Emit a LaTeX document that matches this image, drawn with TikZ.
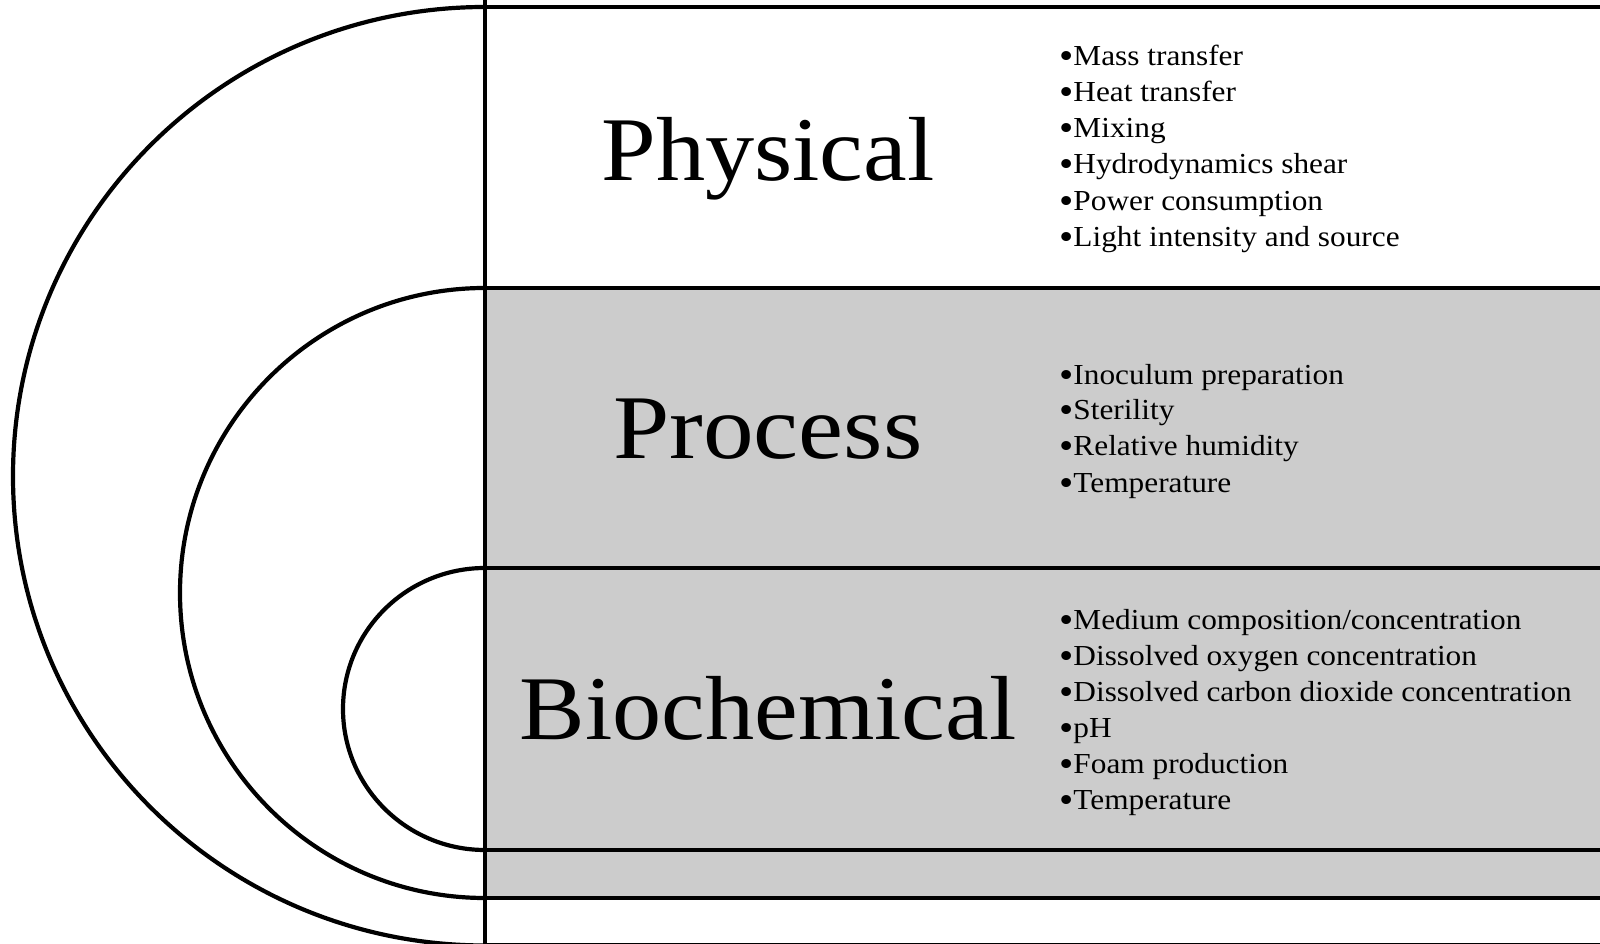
\documentclass[tikz,border=0pt]{standalone}
\usepackage{fontspec}
\usepackage{graphicx}
\setmainfont[FakeStretch=1.08]{Liberation Serif}
\newcommand\bul{\raisebox{-3pt}{\scalebox{1.3}{•}}}
\begin{document}
\begin{tikzpicture}[x=1pt,y=1pt,
  bord/.style={line width=4.2pt,black},
  biglabel/.style={font=\fontsize{91}{100}\selectfont,inner sep=0pt,anchor=base},
  item/.style={font=\fontsize{29}{34}\selectfont,inner sep=0pt,anchor=base west}]
\useasboundingbox (0,0) rectangle (1600,944);
\fill[white] (0,0) rectangle (1600,944);
% grey band (Process, Biochemical and strip below)
\fill[black!20] (485,46) rectangle (1610,656);
% named corner coordinates
\coordinate (t0) at (485,937);
\coordinate (t1) at (485,656);
\coordinate (t2) at (485,376);
\coordinate (b2) at (485,94);
\coordinate (b1) at (485,46);
\coordinate (b0) at (485,-1.5);
% arcs
\draw[bord] (t0) arc[start angle=90,end angle=270,x radius=472,y radius=469.25];
\draw[bord] (t1) arc[start angle=90,end angle=270,x radius=305,y radius=305];
\draw[bord] (t2) arc[start angle=90,end angle=270,x radius=142,y radius=141];
% horizontal lines
\foreach \c in {t0,t1,t2,b2,b1,b0}{\draw[bord] (\c) -- ++(1130,0);}
% vertical line
\draw[bord] (485,944) -- (485,-5);
% big labels
\node[biglabel] (phys) at (768,763) {Physical};
\node[biglabel,xscale=1.03] (proc) at (768,485) {Process};
\node[biglabel] (bioc) at (768,204) {Biochemical};
% lists
\node[item] (p1) at (1059,878) {\bul Mass transfer};
\node[item] (p2) at (1059,842) {\bul Heat transfer};
\node[item] (p3) at (1059,806) {\bul Mixing};
\node[item] (p4) at (1059,770) {\bul Hydrodynamics shear};
\node[item] (p5) at (1059,733) {\bul Power consumption};
\node[item] (p6) at (1059,697) {\bul Light intensity and source};
\node[item] (r1) at (1059,559.5) {\bul Inoculum preparation};
\node[item] (r2) at (1059,524) {\bul Sterility};
\node[item] (r3) at (1059,488) {\bul Relative humidity};
\node[item] (r4) at (1059,451.5) {\bul Temperature};
\node[item] (c1) at (1059,314) {\bul Medium composition/concentration};
\node[item] (c2) at (1059,278) {\bul Dissolved oxygen concentration};
\node[item] (c3) at (1059,242) {\bul Dissolved carbon dioxide concentration};
\node[item] (c4) at (1059,206) {\bul pH};
\node[item] (c5) at (1059,170) {\bul Foam production};
\node[item] (c6) at (1059,134) {\bul Temperature};
\end{tikzpicture}
\end{document}
